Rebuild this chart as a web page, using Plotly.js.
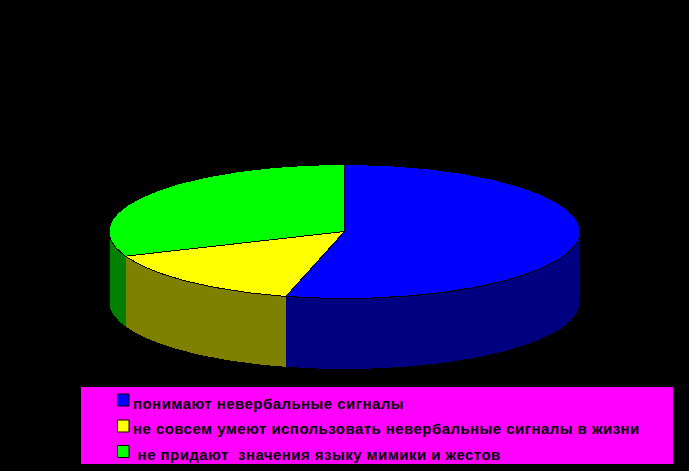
<!DOCTYPE html>
<html><head><meta charset="utf-8">
<script src="https://cdn.plot.ly/plotly-3.0.1.min.js"></script>
<style>
html,body{margin:0;padding:0;background:#000}
#chart{width:689px;height:471px}
.scatterlayer path{shape-rendering:crispEdges}
.annotation-text{letter-spacing:0.45px}
</style></head><body><div id="chart"></div>
<script>
const categories = ["понимают невербальные сигналы","не совсем умеют использовать невербальные сигналы в жизни"," не придают  значения языку мимики и жестов"];
const shares = [54, 15, 31];
const topColors = ["#0000ff","#ffff00","#00ff00"];
const sideColors = ["#000080","#808000","#008000"];

const cx=344.5, cy=231.5, rx=235.5, ry=67, depth=71;
const pt=(deg,dy=0)=>[cx+rx*Math.sin(deg*Math.PI/180), cy-ry*Math.cos(deg*Math.PI/180)+dy];
function arc(a,b,dy=0){const n=Math.max(2,Math.ceil(Math.abs(b-a)));const o=[];for(let i=0;i<=n;i++)o.push(pt(a+(b-a)*i/n,dy));return o;}
function poly(points,fill,name){return {type:'scatter',mode:'lines',x:points.map(p=>p[0]),y:points.map(p=>p[1]),fill:'toself',fillcolor:fill,line:{color:'#000',width:1},hoverinfo:'name',name:name,showlegend:false};}

const total=shares.reduce((a,b)=>a+b,0);
let start=0; const walls=[],tops=[];
shares.forEach((s,i)=>{
  const end=start+s/total*360;
  const a=Math.max(start,90), b=Math.min(end,270);
  if(b>a) walls.push(poly(arc(a,b).concat(arc(b,a,depth)),sideColors[i],categories[i]));
  tops.push(poly([[cx,cy]].concat(arc(start,end)).concat([[cx,cy]]),topColors[i],categories[i]));
  start=end;
});

const swatchY=[400,426,451.5];
const textY=[403.5,428,454];
const textX=[130.5,130.5,130.5];
const shapes=[{type:'rect',xref:'x',yref:'y',x0:81,x1:673,y0:387,y1:464,fillcolor:'#ff00ff',line:{width:0},layer:'below'}];
topColors.forEach((c,i)=>shapes.push({type:'rect',xref:'x',yref:'y',x0:117.5,x1:129,y0:swatchY[i]-6,y1:swatchY[i]+6,fillcolor:c,line:{color:'#000',width:1}}));
const annotations=categories.map((t,i)=>({xref:'x',yref:'y',x:textX[i],y:textY[i],xanchor:'left',yanchor:'middle',showarrow:false,align:'left',text:t.replace(/ /g,'\u00a0'),font:{family:'Liberation Sans',size:15,color:'#000',weight:'bold'}}));

Plotly.newPlot('chart',walls.concat(tops),{
  width:689,height:471,margin:{l:0,r:0,t:0,b:0},paper_bgcolor:'#000',plot_bgcolor:'#000',showlegend:false,
  xaxis:{range:[0,689],visible:false,fixedrange:true},
  yaxis:{range:[471,0],visible:false,fixedrange:true},
  shapes,annotations
},{displayModeBar:false,staticPlot:true});
</script></body></html>
